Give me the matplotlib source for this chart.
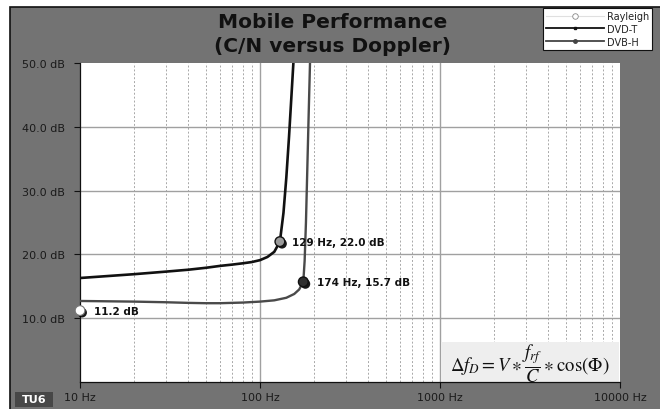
import matplotlib
matplotlib.use("Agg")
import matplotlib.pyplot as plt
import matplotlib.patheffects as pe
from matplotlib.patches import Rectangle
from matplotlib.lines import Line2D
import numpy as np

plt.rcParams['mathtext.fontset'] = 'stix'

# ---- data ----
dvbt_freq = [10, 20, 30, 40, 50, 60, 70, 80, 90, 100, 110, 120, 129, 135, 140, 145, 150, 154]
dvbt_cn = [16.3, 16.9, 17.3, 17.6, 17.9, 18.2, 18.4, 18.6, 18.8, 19.1, 19.6, 20.4, 22.0, 26.5, 32.0, 38.5, 45.5, 51.0]
dvbh_freq = [10, 20, 30, 40, 50, 60, 80, 100, 120, 140, 155, 165, 174, 177, 180, 183, 186, 190]
dvbh_cn = [12.7, 12.6, 12.5, 12.4, 12.35, 12.35, 12.45, 12.6, 12.8, 13.2, 13.8, 14.5, 15.7, 19.0, 25.0, 33.0, 41.0, 51.0]
rayleigh_freq = [10]
rayleigh_cn = [11.2]
pt_dvbt = (129, 22.0)
pt_dvbh = (174, 15.7)
xticks = [10, 100, 1000, 10000]
xticklabels = ['10 Hz', '100 Hz', '1000 Hz', '10000 Hz']
yticks = [10, 20, 30, 40, 50]
yticklabels = ['10.0 dB', '20.0 dB', '30.0 dB', '40.0 dB', '50.0 dB']

W, H = 660, 410
fig = plt.figure(figsize=(6.6, 4.1), dpi=100, facecolor='white')
GRAY = '#737373'
# gray panel with dark border
fig.patches.append(Rectangle((10.5 / W, -0.05), 1, (H - 8) / H + 0.05, transform=fig.transFigure,
                             facecolor=GRAY, edgecolor='#111111', linewidth=1.2, zorder=-5))

ax = fig.add_axes([80 / W, (H - 383) / H, 540 / W, (383 - 64) / H])
ax.set_zorder(1)
ax.set_facecolor('white')
ax.set_xscale('log')
ax.set_xlim(10, 10000)
ax.set_ylim(0, 50)

# grid
for dec in [10, 100, 1000]:
    for m in range(2, 10):
        ax.axvline(dec * m, color='#a8a8a8', lw=0.7, ls=(0, (2, 2)), zorder=1)
for v in [100, 1000]:
    ax.axvline(v, color='#a0a0a0', lw=1.0, zorder=1)
for v in [10, 20, 30, 40]:
    ax.axhline(v, color='#a0a0a0', lw=1.0, zorder=1)

ax.set_xticks(xticks)
ax.set_xticklabels(xticklabels)
ax.xaxis.set_minor_locator(matplotlib.ticker.NullLocator())
ax.set_yticks(yticks)
ax.set_yticklabels(yticklabels)
ax.tick_params(axis='x', length=4, width=0.8, color='#111111', pad=3, labelsize=8, labelcolor='#1a1a1a')
ax.tick_params(axis='y', length=4, width=0.8, color='#111111', pad=7, labelsize=8, labelcolor='#1a1a1a')
for s in ['top', 'right']:
    ax.spines[s].set_visible(False)
for s in ['left', 'bottom']:
    ax.spines[s].set_color('#111111')
    ax.spines[s].set_linewidth(0.9)

# formula box (inside axes, over grid)
ax.add_patch(Rectangle((441 / W, (H - 383) / H), (619 - 441) / W, (383 - 343) / H,
                       transform=fig.transFigure, facecolor='#eeeeee', edgecolor='none', zorder=2))
ax.text(530 / W, (H - 364) / H, r'$\Delta f_D = V \ast \dfrac{f_{rf}}{C} \ast \cos(\Phi)$',
        transform=fig.transFigure, ha='center', va='center', fontsize=13.5, color='#111111', zorder=5)

# curves
ax.plot(dvbh_freq, dvbh_cn, color='#4a4a4a', lw=1.7, zorder=3, clip_on=True)
ax.plot(dvbt_freq, dvbt_cn, color='#111111', lw=1.9, zorder=4, clip_on=True)

shadow = [pe.SimplePatchShadow(offset=(1.5, -1.5), shadow_rgbFace='black', alpha=0.9), pe.Normal()]
ax.plot(rayleigh_freq, rayleigh_cn, 'o', ms=7, mfc='white', mec='#777777', mew=0.8,
        zorder=6, clip_on=False, path_effects=shadow)
ax.plot([pt_dvbt[0]], [pt_dvbt[1]], 'o', ms=7, mfc='#9a9a9a', mec='#111111', mew=1.0,
        zorder=6, path_effects=shadow)
ax.plot([pt_dvbh[0]], [pt_dvbh[1]], 'o', ms=7, mfc='#303030', mec='#111111', mew=1.0,
        zorder=6, path_effects=shadow)

ax.annotate('%.1f dB' % rayleigh_cn[0], (rayleigh_freq[0], rayleigh_cn[0]), xytext=(10, 0),
            textcoords='offset points', va='center', ha='left', fontsize=7.5,
            fontweight='bold', color='#111111', zorder=7)
ax.annotate('%d Hz, %.1f dB' % pt_dvbt, pt_dvbt, xytext=(9, 0), textcoords='offset points',
            va='center', ha='left', fontsize=7.5, fontweight='bold', color='#111111', zorder=7)
ax.annotate('%d Hz, %.1f dB' % pt_dvbh, pt_dvbh, xytext=(10, 0), textcoords='offset points',
            va='center', ha='left', fontsize=7.5, fontweight='bold', color='#111111', zorder=7)

# title
fig.text(333 / W, (H - 23) / H, 'Mobile Performance', ha='center', va='center',
         fontsize=14.5, fontweight='bold', color='#111111')
fig.text(333 / W, (H - 46) / H, '(C/N versus Doppler)', ha='center', va='center',
         fontsize=14.5, fontweight='bold', color='#111111')

# TU6 tag
fig.patches.append(Rectangle((15 / W, (H - 408) / H), 38 / W, 15 / H, transform=fig.transFigure,
                             facecolor='#474747', edgecolor='none', zorder=2))
fig.text(34 / W, (H - 400) / H, 'TU6', ha='center', va='center', fontsize=8,
         fontweight='bold', color='white', zorder=3)

# legend
handles = [
    Line2D([], [], color='#e0e0e0', lw=0.8, marker='o', ms=4, mfc='white', mec='#888888', mew=0.6),
    Line2D([], [], color='#111111', lw=1.3, marker='s', ms=2, mfc='#111111', mec='#111111'),
    Line2D([], [], color='#444444', lw=1.3, marker='o', ms=2.5, mfc='#444444', mec='#444444'),
]
leg = fig.legend(handles, ['Rayleigh', 'DVD-T', 'DVB-H'], loc='upper right',
                 bbox_to_anchor=(652 / W, (H - 9) / H), bbox_transform=fig.transFigure,
                 fontsize=7, frameon=True, fancybox=False, borderpad=0.3, labelspacing=0.3,
                 handlelength=6.0, handletextpad=0.3, borderaxespad=0)
leg.set_zorder(5)
leg.get_frame().set_edgecolor('#111111')
leg.get_frame().set_linewidth(0.8)
leg.get_frame().set_facecolor('white')
leg.get_frame().set_alpha(1)
for t in leg.get_texts():
    t.set_color('#222222')

fig.savefig('out.png', dpi=100, facecolor=fig.get_facecolor())
